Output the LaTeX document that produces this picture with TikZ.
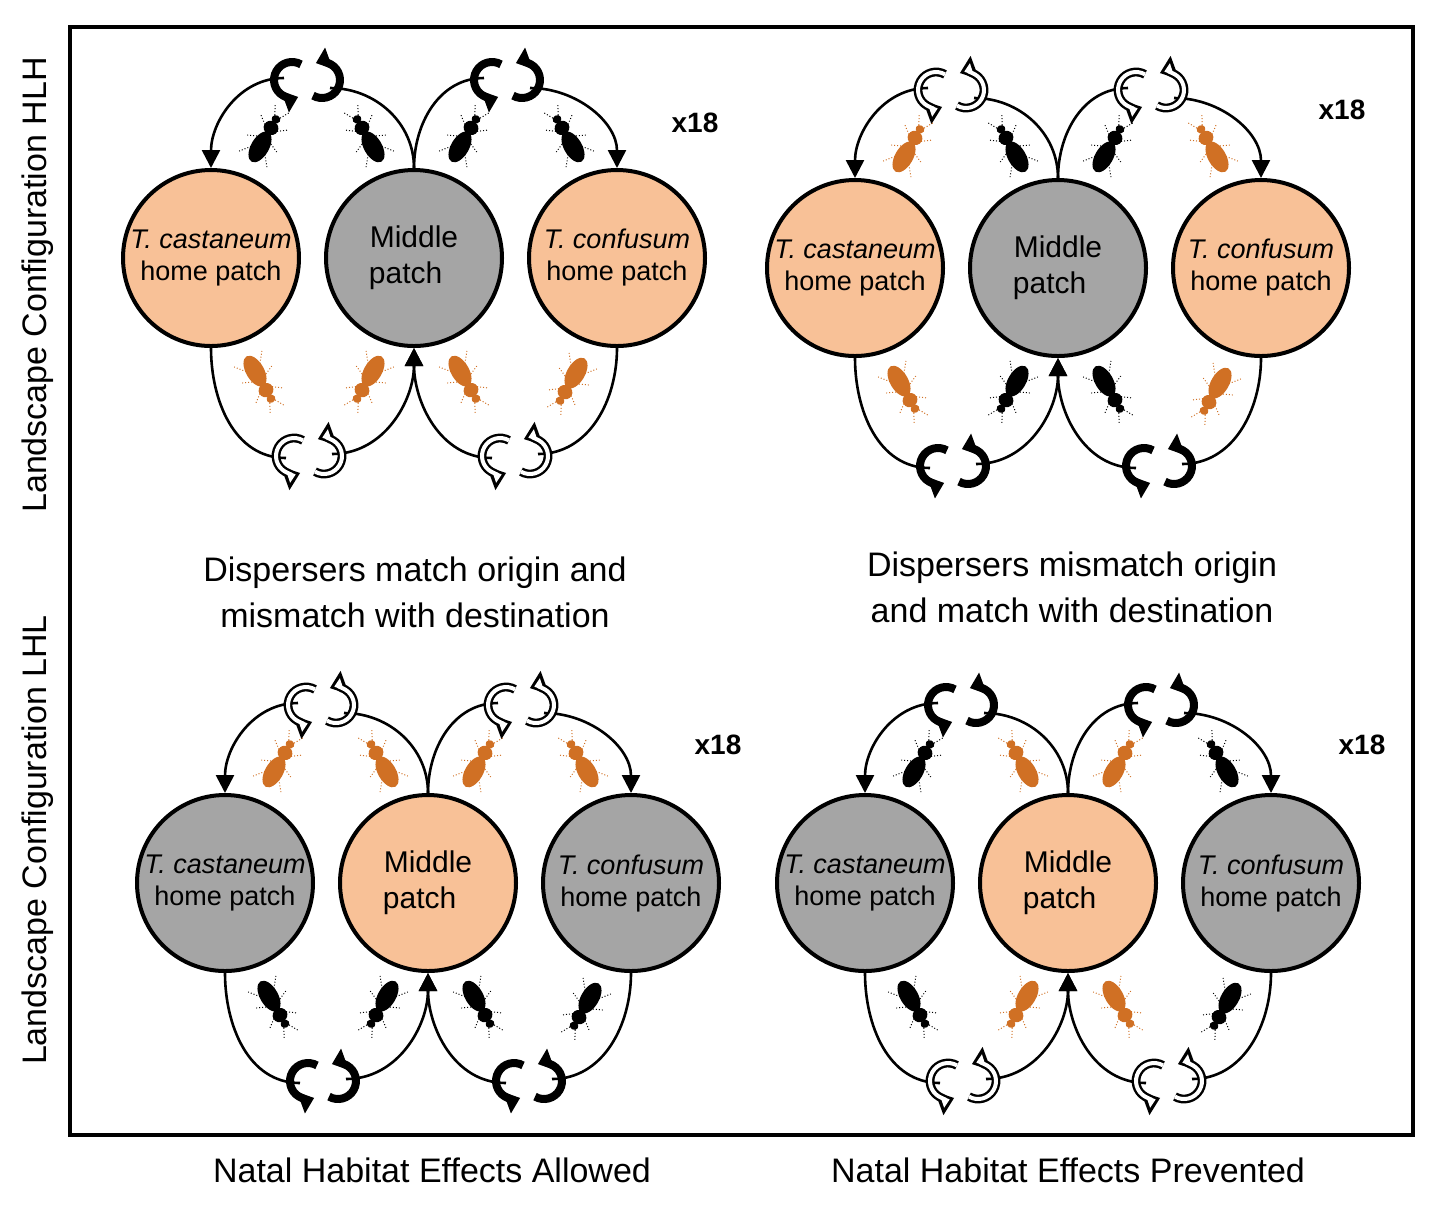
\documentclass[tikz,border=0pt]{standalone}
\usepackage{fontspec}
\setmainfont{Liberation Sans}
\usetikzlibrary{arrows.meta}
\definecolor{peach}{HTML}{F8C197}
\definecolor{patchgray}{HTML}{A5A5A5}
\definecolor{borange}{HTML}{D07024}
\tikzset{
  patch/.style={circle,draw=black,line width=2pt,minimum size=88pt,inner sep=0pt,align=center,font=\fontsize{13.5}{16}\selectfont},
  conn/.style={line width=1.3pt},
  tip/.style={-{Triangle[width=9pt,length=9pt]}},
  pics/beetle/.style={code={
    \begin{scope}[#1]
    \fill (0,8) ellipse (9 and 17);
    \fill (0,-14) ellipse (7.5 and 7);
    \fill (0,-24) ellipse (4.5 and 4);
    \draw[line width=0.5pt,densely dotted] (-7,-14)--(-15,-20) (7,-14)--(15,-20)
      (-8,0)--(-17,4) (8,0)--(17,4) (-8,12)--(-16,22) (8,12)--(16,22)
      (-3,-27)--(-8,-36) (3,-27)--(8,-36);
    \end{scope}}},
  swapsolid/.pic={
    \draw[line width=4pt,-{Triangle[width=11pt,length=7pt]}] (-6,-15.6) arc[start angle=-60,end angle=-290,radius=18];
    \draw[line width=4pt,-{Triangle[width=11pt,length=7pt]}] (6,15.6) arc[start angle=120,end angle=-110,radius=18];},
  swaphollow/.pic={
    \draw[line width=4.4pt,-{Triangle[width=12pt,length=8pt]}] (-6,-15.6) arc[start angle=-60,end angle=-290,radius=18];
    \draw[line width=4.4pt,-{Triangle[width=12pt,length=8pt]}] (6,15.6) arc[start angle=120,end angle=-110,radius=18];
    \draw[white,line width=2pt,shorten >=2pt,-{Triangle[width=6pt,length=4pt]}] (-6,-15.6) arc[start angle=-60,end angle=-288,radius=18];
    \draw[white,line width=2pt,shorten >=2pt,-{Triangle[width=6pt,length=4pt]}] (6,15.6) arc[start angle=120,end angle=-108,radius=18];},
}
% #1 prefix #2 side fill #3 mid fill #4 top outer #5 top inner #6 bot outer #7 bot inner #8 top icon #9 bottom icon
\newcommand\drawpanel[9]{%
  \node[patch,fill=#2] (#1L) at (-203,0) {\textit{T. castaneum}\\home patch};
  \node[patch,fill=#3,font=\fontsize{15}{18}\selectfont] (#1M) at (0,0) {Middle\\patch\phantom{p}};
  \node[patch,fill=#2] (#1R) at (203,0) {\textit{T. confusum}\\home patch};
  \coordinate (#1a) at (-130,-180); \coordinate (#1b) at (-84,-170);
  \coordinate (#1c) at (70,-180); \coordinate (#1d) at (116,-170);
  \coordinate (#1e) at (-128,200); \coordinate (#1f) at (-82,196);
  \coordinate (#1g) at (78,200); \coordinate (#1h) at (124,196);
  \draw[conn,tip] (#1a) to[out=180,in=90] (#1L.north);
  \draw[conn] (#1M.north) to[out=90,in=0] (#1b);
  \draw[conn] (#1M.north) to[out=90,in=180] (#1c);
  \draw[conn,tip] (#1d) to[out=0,in=90] (#1R.north);
  \draw[conn] (#1L.south) to[out=-90,in=180] (#1e);
  \draw[conn,tip] (#1f) to[out=0,in=-90] (#1M.south);
  \draw[conn,tip] (#1g) to[out=180,in=-90] (#1M.south);
  \draw[conn] (#1R.south) to[out=-90,in=0] (#1h);
  \pic at (-107,-178) {#8}; \pic at (93,-178) {#8};
  \pic at (-105,198) {#9}; \pic at (101,198) {#9};
  \pic[rotate=-30] at (-150,-118) {beetle=#4};
  \pic[rotate=30] at (-45,-118) {beetle=#5};
  \pic[rotate=-30] at (50,-118) {beetle=#5};
  \pic[rotate=30] at (155,-118) {beetle=#4};
  \pic[rotate=-150] at (-155,120) {beetle=#6};
  \pic[rotate=150] at (-45,120) {beetle=#7};
  \pic[rotate=-150] at (50,120) {beetle=#7};
  \pic[rotate=150] at (158,122) {beetle=#6};
}
\begin{document}
\begin{tikzpicture}[x=0.5pt,y=-0.5pt]
\useasboundingbox (0,0) rectangle (1440,1207);
\draw[line width=1.6pt] (70,27) rectangle (1413,1135);
\node[rotate=90,font=\fontsize{17}{20}\selectfont] (lab1) at (38,285) {Landscape Configuration HLH};
\node[rotate=90,font=\fontsize{17}{20}\selectfont] (lab2) at (38,840) {Landscape Configuration LHL};
\begin{scope}[shift={(414,258)}]\drawpanel{p}{peach}{patchgray}{black}{black}{borange}{borange}{swapsolid}{swaphollow}\end{scope}
\begin{scope}[shift={(1058,268)}]\drawpanel{q}{peach}{patchgray}{borange}{black}{borange}{black}{swaphollow}{swapsolid}\end{scope}
\begin{scope}[shift={(428,883)}]\drawpanel{r}{patchgray}{peach}{borange}{borange}{black}{black}{swaphollow}{swapsolid}\end{scope}
\begin{scope}[shift={(1068,883)}]\drawpanel{s}{patchgray}{peach}{black}{borange}{black}{borange}{swapsolid}{swaphollow}\end{scope}
\node[font=\bfseries\fontsize{14}{16}\selectfont] (x1) at (695,123) {x18};
\node[font=\bfseries\fontsize{14}{16}\selectfont] (x2) at (1342,110) {x18};
\node[font=\bfseries\fontsize{14}{16}\selectfont] (x3) at (718,745) {x18};
\node[font=\bfseries\fontsize{14}{16}\selectfont] (x4) at (1362,745) {x18};
\node[align=center,font=\fontsize{17}{23}\selectfont] (c1) at (415,592) {Dispersers match origin and\\mismatch with destination};
\node[align=center,font=\fontsize{17}{23}\selectfont] (c2) at (1072,587) {Dispersers mismatch origin\\and match with destination};
\node[font=\fontsize{17}{20}\selectfont] (b1) at (432,1170) {Natal Habitat Effects Allowed};
\node[font=\fontsize{17}{20}\selectfont] (b2) at (1068,1170) {Natal Habitat Effects Prevented};
\end{tikzpicture}
\end{document}
